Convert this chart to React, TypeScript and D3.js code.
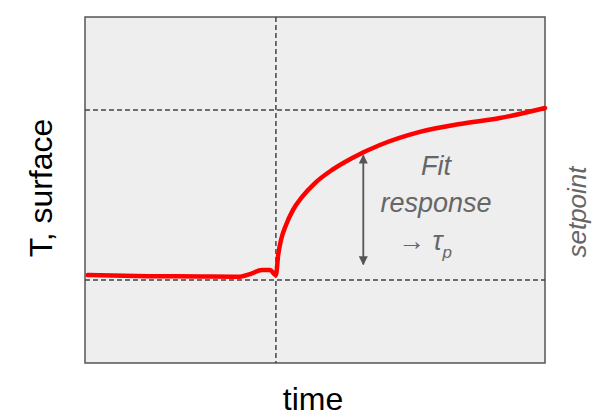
import React from "react";
import * as d3 from "d3";

const timeVals = [0.6, 14, 25, 33.3, 35.9, 38.5, 40.2, 41.5, 42, 42.6, 43.7, 45.2, 47.2, 50, 53.7, 58, 64.1, 72.8, 81.5, 90.2, 100];
const tempVals = [25.4, 25.1, 25, 24.9, 25.7, 26.9, 26.9, 25.4, 31.2, 35.5, 39.9, 44.2, 48.0, 52.0, 55.8, 59.2, 63.0, 66.8, 69.1, 70.8, 73.7];
const levels = [24, 73.1];
const stepTime = 41.5;
const arrowTime = 60.5;
const arrowRange = [60, 28.5];

export default function App() {
  const W = 594, H = 419;
  const L = 85, R = 545, T = 17, B = 363;
  const x = d3.scaleLinear().domain([0, 100]).range([L, R]);
  const y = d3.scaleLinear().domain([0, 100]).range([B, T]);
  const pts = timeVals.map((t, i) => [t, tempVals[i]] as [number, number]);
  const line = d3.line<[number, number]>().x(d => x(d[0])).y(d => y(d[1])).curve(d3.curveMonotoneX);
  const ax = x(arrowTime);
  return (
    <svg width={W} height={H} style={{ position: "absolute", left: 0, top: 0 }} fontFamily="Arial, 'Liberation Sans', sans-serif">
      <defs>
        <marker id="ah" viewBox="0 0 10 10" refX="9" refY="5" markerWidth="5" markerHeight="5" orient="auto-start-reverse">
          <path d="M0,0 L10,5 L0,10 z" fill="#555" />
        </marker>
      </defs>
      <rect x={L} y={T} width={R - L} height={B - T} fill="#eeeeee" stroke="#555" strokeWidth={1.5} />
      {levels.map((l, i) => (
        <line key={i} x1={L} x2={R} y1={y(l)} y2={y(l)} stroke="#444" strokeWidth={1.5} strokeDasharray="5,3" />
      ))}
      <line x1={x(stepTime)} x2={x(stepTime)} y1={T} y2={B} stroke="#444" strokeWidth={1.5} strokeDasharray="5,3" />
      <path d={line(pts) || ""} fill="none" stroke="#ff0000" strokeWidth={4.5} strokeLinecap="round" />
      <line x1={ax} x2={ax} y1={y(arrowRange[1])} y2={y(arrowRange[0])} stroke="#555" strokeWidth={1.8}
        markerStart="url(#ah)" markerEnd="url(#ah)" />
      <g fill="#666" fontStyle="italic" fontSize={27} textAnchor="middle">
        <text x={436} y={175}>Fit</text>
        <text x={436} y={212}>response</text>
        <text x={425} y={250}>→ τ<tspan fontSize={17} dy={8}>p</tspan></text>
      </g>
      <text transform="translate(586,212) rotate(-90)" textAnchor="middle" fill="#666" fontStyle="italic" fontSize={26}>setpoint</text>
      <text transform="translate(52,188) rotate(-90)" textAnchor="middle" fill="#000" fontSize={32}>T, surface</text>
      <text x={313} y={410} textAnchor="middle" fill="#000" fontSize={32}>time</text>
    </svg>
  );
}
